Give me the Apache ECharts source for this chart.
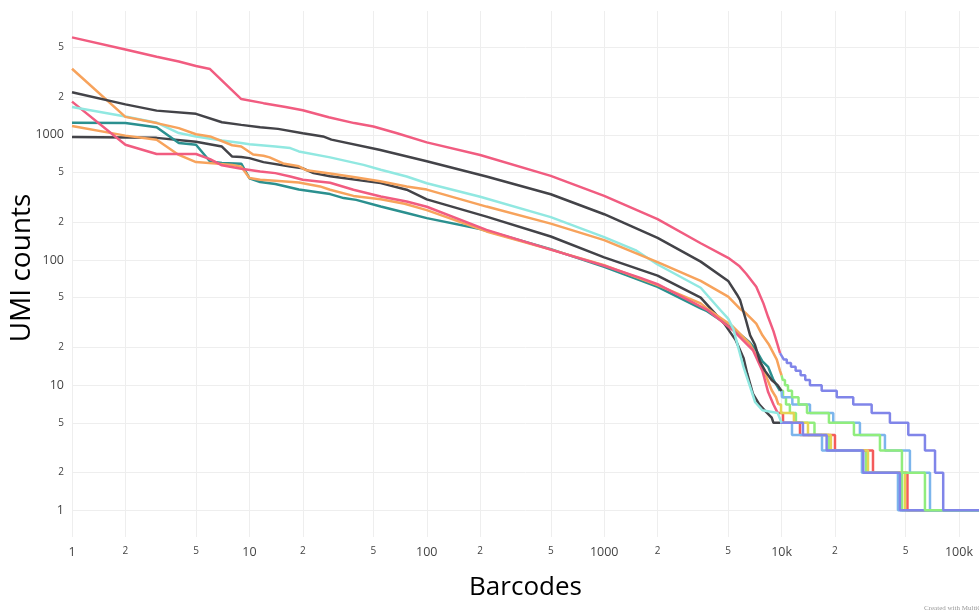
<!DOCTYPE html>
<html>
<head>
<meta charset="utf-8">
<script src="https://cdn.jsdelivr.net/npm/echarts@6/dist/echarts.min.js"></script>
<style>
  html, body { margin: 0; padding: 0; background: #fff; }
  #chart { width: 979px; height: 616px; }
</style>
</head>
<body>
<div id="chart"></div>
<script>
// Axis ticks (1-2-5 pattern on both log axes)
const rankTicks = [1, 2, 5, 10, 20, 50, 100, 200, 500, 1000, 2000, 5000, 10000, 20000, 50000, 100000];
const rankTickLabels = ['1', '2', '5', '10', '2', '5', '100', '2', '5', '1000', '2', '5', '10k', '2', '5', '100k'];
const countTicks = [1, 2, 5, 10, 20, 50, 100, 200, 500, 1000, 2000, 5000];
const countTickLabels = ['1', '2', '5', '10', '2', '5', '100', '2', '5', '1000', '2', '5'];

const rankRange = [1, 129700];
const countRange = [0.612, 9750];

// Called-cell segments: [barcode rank, UMI count]
const cellsPinkA = [[1,6000],[2,4800],[3,4200],[4,3850],[5,3550],[6,3350],[9,1930],[12,1790],[16,1670],[20,1570],[28,1380],[39,1240],[50,1165],[68,1030],[100,870],[200,690],[500,470],[1000,325],[2000,212],[3500,136],[5000,104],[5800,89],[6300,78],[7200,61],[7900,45],[8400,35],[9000,27],[9500,21],[9800,18]];
const cellsDarkA = [[1,2190],[2,1750],[3,1560],[5,1470],[7,1260],[9,1200],[11.5,1150],[14.5,1115],[20,1030],[26,970],[29,915],[54,760],[100,615],[217,464],[500,335],[1000,232],[2000,150],[3500,97],[5000,68],[5600,53],[5830,48],[6300,33],[6650,25],[7080,21],[7550,15.5],[8070,13],[8790,11],[9500,10],[10000,9]];
const cellsOrangeA = [[1,3370],[2,1390],[3,1240],[4,1130],[5,1010],[6,970],[8,825],[9,805],[10.5,695],[12,680],[13,660],[15.5,590],[19,560],[21,520],[28.5,490],[38.6,460],[54.5,425],[77,387],[100,365],[217,267],[500,195],[1000,144],[2000,96],[3500,68],[5000,51],[5800,41],[6300,37.5],[7200,31],[7800,25],[8500,21],[9400,16],[9800,13],[10000,12]];
const cellsCyan = [[1,1665],[2,1400],[3,1250],[4,1032],[5,969],[7,900],[9,860],[10,840],[14,807],[17,783],[19,736],[28.5,660],[44,575],[55,525],[77,464],[100,410],[200,320],[500,220],[1000,152],[1500,120],[2000,92],[3500,60],[4500,40],[5000,34],[5350,28],[5700,20],[6100,14],[6650,9.7],[7100,7.3],[7800,6.3],[9500,6],[10000,5]];
const cellsTeal = [[1,1250],[2,1242],[3,1150],[4,860],[5,832],[6,612],[7,594],[9,588],[10,450],[11.5,420],[14,405],[19,365],[28.5,336],[34,312],[40,302],[55,267],[77,237],[100,216],[200,177],[500,122],[1000,88],[2000,61],[3500,41],[3800,39],[5300,28.5],[6600,22],[7200,19],[7800,15.5],[8400,14],[9000,11],[9800,9]];
const cellsOrangeB = [[1,1175],[2,985],[3,912],[4,690],[5,605],[8,575],[9,555],[10,451],[11.5,437],[14,430],[19,416],[25,387],[28.5,364],[38.6,325],[55,306],[75,281],[100,250],[217,169],[500,121],[1000,91],[2000,63],[3500,45],[3800,41],[5300,29.5],[6600,21.6],[7800,14],[8800,9.1],[9300,8],[9600,7]];
const cellsPinkB = [[1,1840],[2,832],[3,703],[5,703],[6,640],[7,570],[9,535],[11.5,509],[14,494],[17,464],[20,437],[28.5,414],[38.6,364],[55,321],[77,293],[100,266],[217,174],[500,121],[1000,90],[1600,72],[2000,64],[3800,40],[5300,27.6],[6900,19],[7800,13],[8400,8.8],[9000,7],[9500,6]];
const cellsDarkB = [[1,960],[3,945],[5,880],[7,805],[8,670],[9,665],[10,651],[12,605],[17,558],[20,540],[23,494],[28.5,467],[55,411],[77,364],[100,305],[217,222],[500,154],[1000,105],[2000,75],[3500,50],[4750,31],[5500,23],[6100,16.5],[6400,12.4],[6900,8.5],[7500,7],[8100,6.2],[8800,5.5],[9000,5],[9800,5]];

// Background tails: [rank where the count level starts, UMI count]
const bgPurpleA = [[9800,18],[10050,17],[10300,16],[10700,15],[11300,14],[12000,13],[12800,12],[13600,11],[14450,10],[16830,9],[20460,8],[25350,7],[32200,6],[40800,5],[51800,4],[64300,3],[73300,2],[81500,1],[129700,1]];
const bgGreenA = [[10000,12],[10150,11],[10450,10],[10870,9],[11450,8],[12460,7],[13910,6],[18490,5],[25580,4],[35860,3],[47700,2],[64300,1],[129700,1]];
const bgBlueA = [[10000,9],[10050,8],[11500,7],[14460,6],[19560,5],[27650,4],[38260,3],[52910,2],[68660,1],[129700,1]];
const bgYellow = [[9600,7],[9930,6],[11740,5],[14090,4],[18970,3],[30700,2],[49590,1],[129700,1]];
const bgRed = [[9500,6],[10190,5],[12700,4],[20000,3],[32760,2],[51240,1],[129700,1]];
const bgPurpleB = [[9800,5],[13200,4],[17950,3],[28880,2],[46470,1],[129700,1]];
const bgBlueB = [[10000,5],[11450,4],[16900,3],[28380,2],[45300,1],[129700,1]];
const bgGreenB = [[9800,9],[10190,8],[10590,7],[11140,6],[12050,5],[15330,4],[18490,3],[29920,2],[47700,1],[129700,1]];

const COLORS = {
  lightBlue: '#7cb5ec', dark: '#434348', green: '#90ed7d', orange: '#f7a35c',
  purple: '#8085e9', pink: '#f15c80', yellow: '#e4d354', teal: '#2b908f',
  red: '#f45b5b', cyan: '#91e8e1'
};

const lg = Math.log10;
const toLog = pts => pts.map(p => [lg(p[0]), lg(p[1])]);

// Drawing order: first entries sit underneath
const layers = [
  { data: bgGreenB, color: COLORS.green, step: true },
  { data: bgRed, color: COLORS.red, step: true },
  { data: bgYellow, color: COLORS.yellow, step: true },
  { data: bgBlueB, color: COLORS.lightBlue, step: true },
  { data: bgPurpleB, color: COLORS.purple, step: true },
  { data: bgBlueA, color: COLORS.lightBlue, step: true },
  { data: bgGreenA, color: COLORS.green, step: true },
  { data: bgPurpleA, color: COLORS.purple, step: true },
  { data: cellsDarkB, color: COLORS.dark },
  { data: cellsTeal, color: COLORS.teal },
  { data: cellsOrangeB, color: COLORS.orange },
  { data: cellsPinkB, color: COLORS.pink },
  { data: cellsCyan, color: COLORS.cyan },
  { data: cellsOrangeA, color: COLORS.orange },
  { data: cellsDarkA, color: COLORS.dark },
  { data: cellsPinkA, color: COLORS.pink }
];

function labelFormatter(ticks, labels) {
  return function (v) {
    let best = 0;
    for (let i = 1; i < ticks.length; i++) {
      if (Math.abs(lg(ticks[i]) - v) < Math.abs(lg(ticks[best]) - v)) best = i;
    }
    const t = labels[best];
    return (t === '2' || t === '5') ? '{minor|' + t + '}' : '{major|' + t + '}';
  };
}

const FONT = '"Open Sans", "Noto Sans", sans-serif';
const rich = {
  major: { fontSize: 12.5, color: '#444', fontFamily: FONT },
  minor: { fontSize: 10, color: '#444', fontFamily: FONT }
};

const chart = echarts.init(document.getElementById('chart'), null, { renderer: 'canvas' });
chart.setOption({
  animation: false,
  backgroundColor: '#fff',
  grid: { left: 72, right: 0, top: 11, bottom: 79, containLabel: false, outerBoundsMode: 'none' },
  xAxis: {
    type: 'value',
    min: lg(rankRange[0]), max: lg(rankRange[1]),
    name: 'Barcodes', nameLocation: 'middle', nameGap: 38, nameMoveOverlap: false,
    nameTextStyle: { fontSize: 26, color: '#000', fontFamily: FONT },
    axisLine: { show: false },
    axisTick: { show: false, customValues: rankTicks.map(lg) },
    axisLabel: { customValues: rankTicks.map(lg), margin: 9, hideOverlap: false, formatter: labelFormatter(rankTicks, rankTickLabels), rich: rich },
    splitLine: { show: true, lineStyle: { color: '#eeeeee', width: 1 } }
  },
  yAxis: {
    type: 'value',
    min: lg(countRange[0]), max: lg(countRange[1]),
    name: 'UMI counts', nameLocation: 'middle', nameGap: 36, nameRotate: 90, nameMoveOverlap: false,
    nameTextStyle: { fontSize: 28, color: '#000', fontFamily: FONT, padding: [0, 0, 0, 12] },
    axisLine: { show: false },
    axisTick: { show: false, customValues: countTicks.map(lg) },
    axisLabel: { customValues: countTicks.map(lg), margin: 8, hideOverlap: false, formatter: labelFormatter(countTicks, countTickLabels), rich: rich },
    splitLine: { show: true, lineStyle: { color: '#eeeeee', width: 1 } }
  },
  series: layers.map(l => ({
    type: 'line',
    data: toLog(l.data),
    step: l.step ? 'end' : false,
    showSymbol: false,
    symbol: 'none',
    color: l.color,
    lineStyle: { color: l.color, width: 2.5 },
    emphasis: { disabled: true },
    silent: true
  })),
  graphic: [{
    type: 'text', left: 924, top: 605,
    style: { text: 'Created with MultiQC', fontSize: 7, fill: '#999', fontFamily: '"Liberation Serif", serif' }
  }]
});
</script>
</body>
</html>
